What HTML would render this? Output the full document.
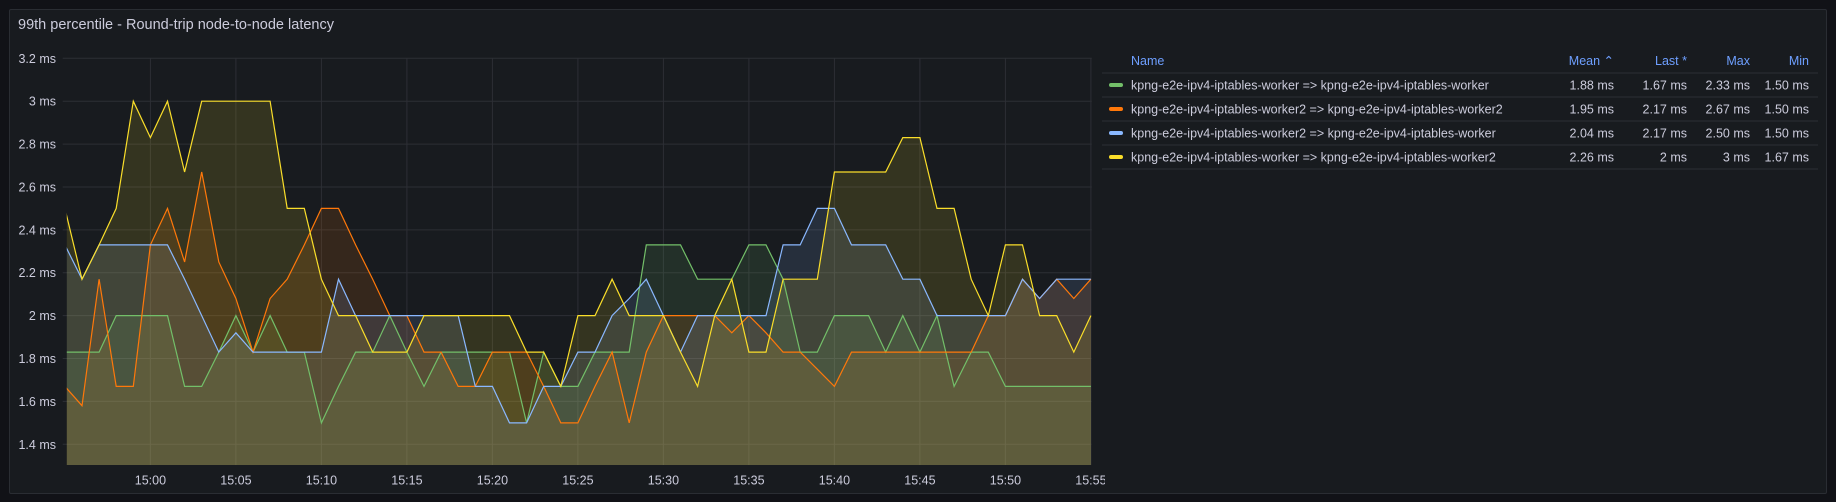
<!DOCTYPE html>
<html><head><meta charset="utf-8"><style>
body{margin:0;background:#111217;width:1836px;height:502px;overflow:hidden;font-family:"Liberation Sans",sans-serif;}
#panel{position:absolute;left:9px;top:9px;width:1816px;height:483px;background:#181b1f;border:1px solid #2a2d33;border-radius:2px;}
#title{position:absolute;left:18px;top:17px;color:#ccccdc;font-size:14.5px;}
svg{position:absolute;left:0;top:0;}
</style></head><body>
<div id="panel"></div>
<div id="title">99th percentile - Round-trip node-to-node latency</div>
<svg id="chart" width="1836" height="502"></svg>
<script>
const minutes = [];
for (let m = -5; m <= 55; m++) minutes.push(m);
const seriesNames = [
 "kpng-e2e-ipv4-iptables-worker => kpng-e2e-ipv4-iptables-worker",
 "kpng-e2e-ipv4-iptables-worker2 => kpng-e2e-ipv4-iptables-worker2",
 "kpng-e2e-ipv4-iptables-worker2 => kpng-e2e-ipv4-iptables-worker",
 "kpng-e2e-ipv4-iptables-worker => kpng-e2e-ipv4-iptables-worker2"];
const seriesColors = ["#73bf69","#ff780a","#8ab8ff","#fade2a"];
const greenVals = [1.83,1.83,1.83,2.0,2.0,2.0,2.0,1.67,1.67,1.83,2.0,1.83,2.0,1.83,1.83,1.5,1.67,1.83,1.83,2.0,1.83,1.67,1.83,1.83,1.83,1.83,1.83,1.5,1.83,1.67,1.67,1.83,1.83,1.83,2.33,2.33,2.33,2.17,2.17,2.17,2.33,2.33,2.17,1.83,1.83,2.0,2.0,2.0,1.83,2.0,1.83,2.0,1.67,1.83,1.83,1.67,1.67,1.67,1.67,1.67,1.67];
const orangeVals = [1.67,1.58,2.17,1.67,1.67,2.33,2.5,2.25,2.67,2.25,2.08,1.83,2.08,2.17,2.33,2.5,2.5,2.33,2.17,2.0,2.0,1.83,1.83,1.67,1.67,1.83,1.83,1.83,1.67,1.5,1.5,1.67,1.83,1.5,1.83,2.0,2.0,2.0,2.0,1.92,2.0,1.92,1.83,1.83,1.75,1.67,1.83,1.83,1.83,1.83,1.83,1.83,1.83,1.83,2.0,2.0,2.17,2.08,2.17,2.08,2.17];
const blueVals = [2.33,2.17,2.33,2.33,2.33,2.33,2.33,2.17,2.0,1.83,1.92,1.83,1.83,1.83,1.83,1.83,2.17,2.0,2.0,2.0,2.0,2.0,2.0,2.0,1.67,1.67,1.5,1.5,1.67,1.67,1.83,1.83,2.0,2.08,2.17,2.0,1.83,2.0,2.0,2.0,2.0,2.0,2.33,2.33,2.5,2.5,2.33,2.33,2.33,2.17,2.17,2.0,2.0,2.0,2.0,2.0,2.17,2.08,2.17,2.17,2.17];
const yellowVals = [2.5,2.17,2.33,2.5,3.0,2.83,3.0,2.67,3.0,3.0,3.0,3.0,3.0,2.5,2.5,2.17,2.0,2.0,1.83,1.83,1.83,2.0,2.0,2.0,2.0,2.0,2.0,1.83,1.83,1.67,2.0,2.0,2.17,2.0,2.0,2.0,1.83,1.67,2.0,2.17,1.83,1.83,2.17,2.17,2.17,2.67,2.67,2.67,2.67,2.83,2.83,2.5,2.5,2.17,2.0,2.33,2.33,2.0,2.0,1.83,2.0];
const yTicks = [1.4,1.6,1.8,2.0,2.2,2.4,2.6,2.8,3.0,3.2];
const yTickLabels = ["1.4 ms","1.6 ms","1.8 ms","2 ms","2.2 ms","2.4 ms","2.6 ms","2.8 ms","3 ms","3.2 ms"];
const xTicks = [0,5,10,15,20,25,30,35,40,45,50,55];
const xTickLabels = ["15:00","15:05","15:10","15:15","15:20","15:25","15:30","15:35","15:40","15:45","15:50","15:55"];
const legendMean = ["1.88 ms","1.95 ms","2.04 ms","2.26 ms"];
const legendLast = ["1.67 ms","2.17 ms","2.17 ms","2 ms"];
const legendMax = ["2.33 ms","2.67 ms","2.50 ms","3 ms"];
const legendMin = ["1.50 ms","1.50 ms","1.50 ms","1.67 ms"];

const NS="http://www.w3.org/2000/svg";
const svg=document.getElementById('chart');
const PL=66.8, PR=1091.8, PT=58.3, PB=465;
const xS=m=>150.4+17.1*m;
const yS=v=>444.3-(v-1.4)*(386/1.8);
function mk(t,a,p){const e=document.createElementNS(NS,t);for(const k in a)e.setAttribute(k,a[k]);(p||svg).appendChild(e);return e;}
const defs=mk('defs',{});
const cp=mk('clipPath',{id:'clip'},defs);
mk('rect',{x:PL,y:0,width:PR-PL,height:PB},cp);
const cp2=mk('clipPath',{id:'clipx'},defs);
mk('rect',{x:0,y:0,width:1105,height:502},cp2);
yTicks.forEach((v,i)=>{
 const l=mk('line',{x1:62.7,x2:PR,y1:yS(v),y2:yS(v),stroke:'#2c2f35','stroke-width':1});
 
 
 const t=mk('text',{x:56,y:yS(v)+4.5,'text-anchor':'end',fill:'#ccccdc','font-size':'12.5'});
 t.textContent=yTickLabels[i];
 
 
});
const xg=mk('g',{'clip-path':'url(#clipx)'});
xTicks.forEach((m,i)=>{
 const x=xS(m);
 if(x<=PR+1){
 const l=mk('line',{x1:x,x2:x,y1:PT,y2:PB,stroke:'#2c2f35','stroke-width':1});
 
 }
 const t=mk('text',{x:x,y:484.5,'text-anchor':'middle',fill:'#ccccdc','font-size':'12.5'},xg);
 t.textContent=xTickLabels[i];
 
 
});
const g=mk('g',{'clip-path':'url(#clip)'});
const allVals=[greenVals,orangeVals,blueVals,yellowVals];
allVals.forEach((vals,si)=>{
 const pts=vals.map((v,i)=>xS(minutes[i]).toFixed(1)+','+yS(v).toFixed(1));
 const area=mk('path',{d:'M'+xS(minutes[0])+','+PB+' L'+pts.join(' L')+' L'+xS(minutes[minutes.length-1])+','+PB+'Z',fill:seriesColors[si],'fill-opacity':0.13},g);
 
 
});
allVals.forEach((vals,si)=>{
 const pts=vals.map((v,i)=>xS(minutes[i]).toFixed(1)+','+yS(v).toFixed(1));
 const line=mk('polyline',{points:pts.join(' '),fill:'none',stroke:seriesColors[si],'stroke-width':1.2},g);
 
 
});
const hdrY=65;
const hdr=[["Name",1131,'start'],["Mean ⌃",1614,'end'],["Last *",1687,'end'],["Max",1750,'end'],["Min",1809,'end']];
hdr.forEach(h=>{
 const t=mk('text',{x:h[1],y:hdrY,'text-anchor':h[2],fill:'#6e9fff','font-size':'12.5'});
 t.textContent=h[0];
 
 
});
for(let r=0;r<5;r++){
 const l=mk('line',{x1:1102,x2:1818,y1:73+24*r,y2:73+24*r,stroke:'#2c2f35','stroke-width':1});
 
 
}
seriesNames.forEach((n,i)=>{
 const y=89.5+24*i;
 const row=mk('g',{});
 
 
 mk('rect',{x:1109,y:y-6.5,width:14,height:4,rx:2,fill:seriesColors[i]},row);
 const vals=[[n,1131,'start'],[legendMean[i],1614,'end'],[legendLast[i],1687,'end'],[legendMax[i],1750,'end'],[legendMin[i],1809,'end']];
 vals.forEach(v=>{const t=mk('text',{x:v[1],y:y,'text-anchor':v[2],fill:'#ccccdc','font-size':'12.5'},row);t.textContent=v[0];});
});
</script>
</body></html>
